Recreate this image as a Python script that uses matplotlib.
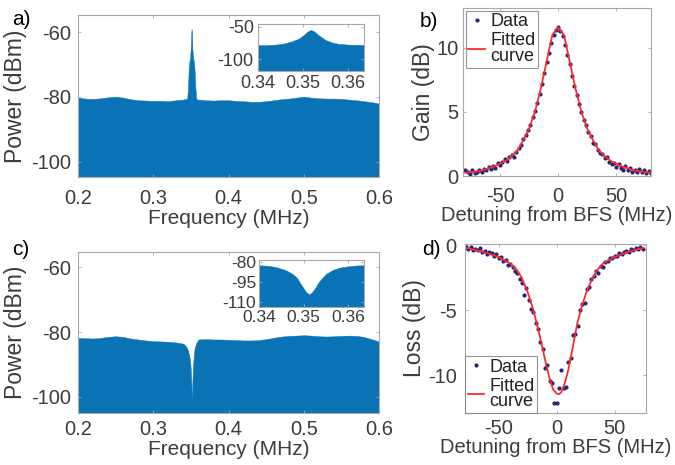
import matplotlib
matplotlib.use("Agg")
import matplotlib.pyplot as plt

plt.rcParams['font.family'] = ['Liberation Sans', 'DejaVu Sans']
plt.rcParams['axes.unicode_minus'] = False

# ---------------- data ----------------
# (a) spectrum with gain peak (top envelope of the spectrum, dBm)
freq_a = [0.200, 0.210, 0.220, 0.230, 0.240, 0.250, 0.260, 0.270, 0.280, 0.290,
          0.300, 0.310, 0.320, 0.330, 0.340, 0.345, 0.346, 0.347, 0.348, 0.349,
          0.350, 0.3505, 0.351, 0.3515, 0.352, 0.353, 0.354, 0.355, 0.356, 0.357,
          0.358, 0.360, 0.370, 0.380, 0.390, 0.400, 0.410, 0.420, 0.430, 0.440,
          0.450, 0.460, 0.470, 0.480, 0.490, 0.500, 0.510, 0.520, 0.530, 0.540,
          0.550, 0.560, 0.570, 0.580, 0.590, 0.600]
power_a = [-80.2, -80.5, -80.6, -80.4, -80.1, -79.9, -80.2, -80.7, -81.0, -81.1,
           -81.2, -81.2, -81.3, -81.0, -80.8, -80.5, -78.0, -72.0, -69.0, -68.0,
           -64.0, -60.0, -59.0, -60.0, -65.0, -68.0, -69.0, -72.0, -77.0, -80.0,
           -80.8, -80.8, -81.0, -81.1, -81.0, -81.0, -81.2, -81.3, -81.5, -81.5,
           -81.3, -81.0, -80.7, -80.5, -80.2, -79.9, -80.2, -80.4, -80.5, -80.5,
           -80.6, -80.8, -81.0, -81.3, -81.6, -82.0]

# (a) inset
freq_ia = [0.3400, 0.3420, 0.3440, 0.3460, 0.3475, 0.3490, 0.3500, 0.3510, 0.3517,
           0.3525, 0.3535, 0.3550, 0.3565, 0.3580, 0.3600, 0.3620, 0.3635]
power_ia = [-78.5, -78.3, -77.5, -75.5, -72.5, -68.5, -63.5, -57.5, -55.0,
            -57.5, -63.5, -70.5, -74.5, -76.5, -77.5, -77.8, -78.0]

# (c) spectrum with loss dip
freq_c = [0.200, 0.210, 0.220, 0.230, 0.240, 0.250, 0.260, 0.270, 0.280, 0.290,
          0.300, 0.310, 0.320, 0.330, 0.340, 0.344, 0.346, 0.348, 0.349, 0.350,
          0.3505, 0.351, 0.3513, 0.3517, 0.352, 0.353, 0.354, 0.355, 0.357, 0.360,
          0.370, 0.380, 0.390, 0.400, 0.410, 0.420, 0.430, 0.440, 0.450, 0.460,
          0.470, 0.480, 0.490, 0.500, 0.510, 0.520, 0.530, 0.540, 0.550, 0.560,
          0.570, 0.580, 0.590, 0.600]
power_c = [-81.8, -81.9, -82.0, -81.8, -81.5, -81.3, -81.5, -82.0, -82.3, -82.6,
           -82.8, -82.9, -83.0, -83.2, -83.6, -84.5, -85.5, -87.5, -89.0, -92.0,
           -95.0, -99.0, -100.5, -99.0, -95.0, -90.0, -87.0, -85.0, -83.5, -82.3,
           -82.2, -82.3, -82.3, -82.4, -82.5, -82.6, -82.6, -82.5, -82.2, -81.8,
           -81.4, -81.2, -81.1, -81.0, -81.1, -81.3, -81.4, -81.3, -81.2, -81.1,
           -81.2, -81.5, -82.2, -82.9]

# (c) inset
freq_ic = [0.3400, 0.3420, 0.3440, 0.3460, 0.3475, 0.3485, 0.3495, 0.3505, 0.3512,
           0.3518, 0.3525, 0.3535, 0.3550, 0.3565, 0.3580, 0.3600, 0.3620, 0.3635]
power_ic = [-82.5, -82.8, -84.0, -86.2, -89.0, -92.0, -97.5, -102.5, -104.5,
            -103.0, -100.0, -94.5, -89.0, -86.0, -84.3, -83.2, -82.6, -82.5]

# (b) gain vs detuning
det_b = [-80, -78, -76, -74, -72, -70, -68, -66, -64, -62, -60, -58, -56, -54, -52,
         -50, -48, -46, -44, -42, -40, -38, -36, -34, -32, -30, -28, -26, -24, -22,
         -20, -18, -16, -14, -12, -10, -8, -6, -4, -2, 0, 2, 4, 6, 8, 10, 12, 14, 16,
         18, 20, 22, 24, 26, 28, 30, 32, 34, 36, 38, 40, 42, 44, 46, 48, 50, 52, 54,
         56, 58, 60, 62, 64, 66, 68, 70, 72, 74, 76, 78, 80]
gain_b = [0.5, 0.3, 0.15, 0.45, 0.2, 0.35, 0.5, 0.3, 0.55, 0.45, 0.7, 0.55, 0.8, 0.65,
          1.0, 0.85, 1.1, 1.3, 1.15, 1.45, 1.6, 1.5, 1.9, 2.2, 2.4, 2.9, 3.2, 3.6, 4.0,
          4.6, 5.1, 5.7, 6.4, 7.2, 8.0, 8.9, 9.6, 10.4, 11.0, 11.4, 11.6, 11.3, 10.9,
          10.2, 9.4, 8.7, 7.8, 7.0, 6.3, 5.6, 5.0, 4.4, 4.0, 3.4, 3.1, 2.6, 2.5, 2.0,
          1.8, 1.7, 1.4, 1.5, 1.1, 0.9, 1.0, 0.7, 0.9, 0.6, 0.5, 0.75, 0.45, 0.6, 0.3,
          0.5, 0.35, 0.55, 0.3, 0.45, 0.25, 0.4, 0.2]
fit_det_b = [-80, -75, -70, -65, -60, -55, -50, -45, -40, -35, -30, -25, -20, -15, -10,
             -5, 0, 5, 10, 15, 20, 25, 30, 35, 40, 45, 50, 55, 60, 65, 70, 75, 80]
fit_gain_b = [0.25, 0.3, 0.35, 0.45, 0.6, 0.75, 0.95, 1.2, 1.55, 2.0, 2.8, 3.7, 5.0,
              6.8, 8.9, 11.0, 11.6, 11.0, 8.9, 6.8, 5.0, 3.7, 2.8, 2.0, 1.55, 1.2,
              0.95, 0.75, 0.6, 0.45, 0.35, 0.3, 0.25]

# (d) loss vs detuning
det_d = [-78, -76, -74, -72, -70, -68, -66, -64, -62, -60, -58, -56, -54, -52, -50,
         -48, -46, -44, -42, -40, -38, -36, -34, -32, -30, -28, -26, -24, -22, -20,
         -18, -16, -14, -12, -10, -8, -6, -4, -2, 0, 2, 4, 6, 8, 10, 12, 14, 16, 18,
         20, 22, 24, 26, 28, 30, 32, 34, 36, 38, 40, 42, 44, 46, 48, 50, 52, 54, 56,
         58, 60, 62, 64, 66, 68, 70, 72, 74]
loss_d = [-0.1, -0.3, -0.15, -0.35, -0.25, -0.4, -0.2, -0.5, -0.45, -0.7, -0.5, -0.6,
          -0.85, -0.7, -1.0, -0.9, -1.2, -1.1, -1.5, -1.45, -1.7, -2.0, -2.1, -2.6,
          -2.9, -3.8, -3.3, -4.2, -4.9, -5.1, -6.0, -6.4, -7.4, -8.0, -9.4, -9.2,
          -10.4, -10.6, -12.1, -12.1, -11.0, -9.6, -11.0, -10.9, -9.0, -8.7, -6.9,
          -6.8, -6.2, -5.0, -4.5, -4.4, -3.4, -3.2, -2.6, -2.4, -2.0, -2.1, -1.6,
          -1.7, -1.3, -1.2, -1.0, -0.95, -0.8, -0.85, -0.6, -0.7, -0.5, -0.45, -0.55,
          -0.3, -0.35, -0.2, -0.25, -0.1, -0.3]
fit_det_d = [-78, -70, -60, -50, -40, -35, -30, -25, -20, -15, -10, -6, -3, 0, 2, 4,
             7, 10, 14, 18, 22, 26, 30, 35, 40, 50, 60, 70, 75]
fit_loss_d = [-0.2, -0.35, -0.6, -0.9, -1.4, -1.8, -2.5, -3.6, -5.0, -6.8, -8.8,
              -10.3, -11.1, -11.4, -11.45, -11.3, -10.6, -9.6, -7.8, -5.9, -4.6,
              -3.5, -2.7, -1.9, -1.4, -0.9, -0.55, -0.3, -0.2]

# ---------------- styling ----------------
W, H = 675, 465
BLUE = '#0a73b6'
TXT = '#3c3c3c'
SPINE = '#a8a8a8'
DOT = '#24247a'
RED = '#ff2a2a'


def rect(l, t, r, b):
    return [l / W, 1 - b / H, (r - l) / W, (b - t) / H]


def style(ax, tick_size, pad=4):
    for s in ax.spines.values():
        s.set_color(SPINE)
        s.set_linewidth(0.8)
    ax.tick_params(direction='in', length=2.5, width=0.6, color=SPINE,
                   labelsize=tick_size, labelcolor=TXT, top=True, right=True,
                   pad=pad)


def ptext(x, y, s, **kw):
    fig.text(x / W, 1 - y / H, s, **kw)


def legend(ax, loc, bpad):
    leg = ax.legend(loc=loc, fontsize=13, frameon=True, fancybox=False,
                    borderpad=0.15, labelspacing=0.1, handlelength=0.9,
                    handletextpad=0.3, borderaxespad=bpad)
    leg.get_frame().set_edgecolor('#7a7a7a')
    leg.get_frame().set_linewidth(0.8)
    for t in leg.get_texts():
        t.set_color('#222222')
        t.set_linespacing(0.9)
    return leg


fig = plt.figure(figsize=(6.75, 4.65), dpi=100)

# (a)
ax_a = fig.add_axes(rect(78, 15, 379, 177))
ax_a.fill_between(freq_a, -130, power_a, color=BLUE, linewidth=0.3, edgecolor=BLUE)
ax_a.set_xlim(0.2, 0.6)
ax_a.set_ylim(-104.7, -54.7)
ax_a.set_xticks([0.2, 0.3, 0.4, 0.5, 0.6])
ax_a.set_xticklabels(['0.2', '0.3', '0.4', '0.5', '0.6'])
ax_a.set_yticks([-100, -80, -60])
style(ax_a, 14.5, pad=5)
ax_a.tick_params(axis='x', pad=9)
ax_a.set_xlabel('Frequency (MHz)', fontsize=15, color=TXT, labelpad=0)
ax_a.set_ylabel('Power (dBm)', fontsize=16.5, color=TXT, labelpad=3)
ptext(12, 10, 'a)', fontsize=15, color='black', ha='left', va='top')

ia = fig.add_axes(rect(258, 24, 364, 71))
ia.fill_between(freq_ia, -140, power_ia, color=BLUE, linewidth=0.3, edgecolor=BLUE)
ia.set_xlim(0.34, 0.3635)
ia.set_ylim(-118, -46)
ia.set_xticks([0.34, 0.35, 0.36])
ia.set_xticklabels(['0.34', '0.35', '0.36'])
ia.set_yticks([-100, -50])
style(ia, 13, pad=3)

# (c)
ax_c = fig.add_axes(rect(78, 252, 379, 413))
ax_c.fill_between(freq_c, -130, power_c, color=BLUE, linewidth=0.3, edgecolor=BLUE)
ax_c.set_xlim(0.2, 0.6)
ax_c.set_ylim(-105, -55.3)
ax_c.set_xticks([0.2, 0.3, 0.4, 0.5, 0.6])
ax_c.set_xticklabels(['0.2', '0.3', '0.4', '0.5', '0.6'])
ax_c.set_yticks([-100, -80, -60])
style(ax_c, 14.5, pad=5)
ax_c.tick_params(axis='x', pad=5)
ax_c.set_xlabel('Frequency (MHz)', fontsize=15, color=TXT, labelpad=1)
ax_c.set_ylabel('Power (dBm)', fontsize=16.5, color=TXT, labelpad=3)
ptext(12, 240, 'c)', fontsize=15, color='black', ha='left', va='top')

ic = fig.add_axes(rect(259, 260, 364, 307))
ic.fill_between(freq_ic, -140, power_ic, color=BLUE, linewidth=0.3, edgecolor=BLUE)
ic.set_xlim(0.34, 0.3635)
ic.set_ylim(-114, -78.5)
ic.set_xticks([0.34, 0.35, 0.36])
ic.set_xticklabels(['0.34', '0.35', '0.36'])
ic.set_yticks([-110, -95, -80])
style(ic, 12.5, pad=2)

# (b)
ax_b = fig.add_axes(rect(463, 8, 651, 176))
ax_b.plot(det_b, gain_b, linestyle='none', marker='o', markersize=2.0,
          color=DOT, label='Data')
ax_b.plot(fit_det_b, fit_gain_b, color=RED, linewidth=1.3, label='Fitted\ncurve')
ax_b.set_xlim(-82, 80)
ax_b.set_ylim(0, 13.1)
ax_b.set_xticks([-50, 0, 50])
ax_b.set_yticks([0, 5, 10])
style(ax_b, 14.5, pad=3)
ax_b.tick_params(axis='x', pad=8)
ax_b.set_xlabel('Detuning from BFS (MHz)', fontsize=14.5, color=TXT, labelpad=0)
ax_b.set_ylabel('Gain (dB)', fontsize=16.5, color=TXT, labelpad=1)
legend(ax_b, 'upper left', 0.15)
ptext(420, 12, 'b)', fontsize=15, color='black', ha='left', va='top')

# (d)
ax_d = fig.add_axes(rect(465, 244, 646, 413))
ax_d.plot(det_d, loss_d, linestyle='none', marker='o', markersize=2.0,
          color=DOT, label='Data')
ax_d.plot(fit_det_d, fit_loss_d, color=RED, linewidth=1.3, label='Fitted\ncurve')
ax_d.set_xlim(-79, 77)
ax_d.set_ylim(-12.9, 0.1)
ax_d.set_xticks([-50, 0, 50])
ax_d.set_yticks([-10, -5, 0])
style(ax_d, 14.5, pad=6)
ax_d.tick_params(axis='x', pad=4)
ax_d.set_xlabel('Detuning from BFS (MHz)', fontsize=14.5, color=TXT, labelpad=0)
ax_d.set_ylabel('Loss (dB)', fontsize=16.5, color=TXT, labelpad=1)
legend(ax_d, 'lower left', 0.0)
ptext(422, 240, 'd)', fontsize=15, color='black', ha='left', va='top')

fig.savefig('out.png', dpi=100, facecolor='white')
